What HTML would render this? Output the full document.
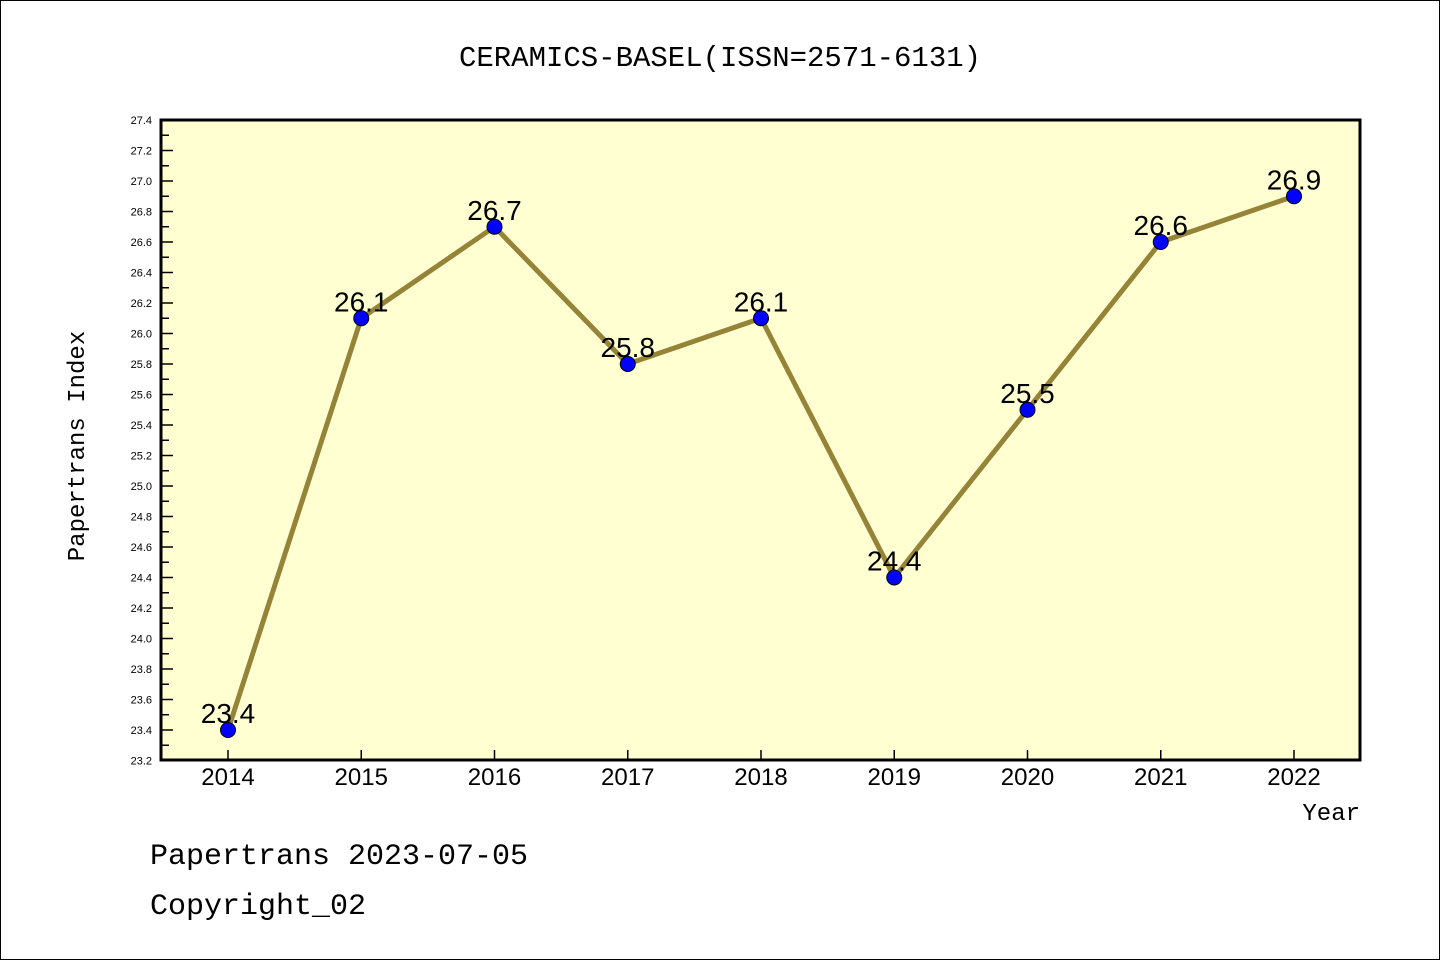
<!DOCTYPE html>
<html><head><meta charset="utf-8"><style>
body{margin:0;background:#fff}
svg{display:block}
text{font-family:"Liberation Mono","DejaVu Sans Mono",monospace}
</style></head><body>
<svg id="chart" width="1440" height="960" viewBox="0 0 1440 960" xmlns="http://www.w3.org/2000/svg">
<rect x="0.5" y="0.5" width="1439" height="959" fill="#fff" stroke="#000"/>
<text x="720" y="66" font-size="29" text-anchor="middle">CERAMICS-BASEL(ISSN=2571-6131)</text>
<rect x="161" y="120" width="1199" height="640" fill="#ffffd2"/>
<g id="yaxis"></g>
<g id="xaxis"></g>
<g id="series"></g>
<rect x="161" y="120" width="1199" height="640" fill="none" stroke="#000" stroke-width="3"/>
<text transform="translate(84,446) rotate(-90)" font-size="24" text-anchor="middle">Papertrans Index</text>
<text x="1360" y="820" font-size="24" text-anchor="end">Year</text>
<text x="150" y="864" font-size="30">Papertrans 2023-07-05</text>
<text x="150" y="914" font-size="30">Copyright_02</text>
</svg>
<script>
const years = [2014,2015,2016,2017,2018,2019,2020,2021,2022];
const values = [23.4,26.1,26.7,25.8,26.1,24.4,25.5,26.6,26.9];
const yTicks = [23.2,23.4,23.6,23.8,24.0,24.2,24.4,24.6,24.8,25.0,25.2,25.4,25.6,25.8,26.0,26.2,26.4,26.6,26.8,27.0,27.2,27.4];
const valueLabels = ["23.4","26.1","26.7","25.8","26.1","24.4","25.5","26.6","26.9"];
(function(){
const NS="http://www.w3.org/2000/svg";
const yMin=23.2,yMax=27.4,pTop=120,pBot=760.5;
const y=v=>pBot-(v-yMin)/(yMax-yMin)*(pBot-pTop);
const x=yr=>228+(yr-2014)*133.25;
function mk(tag,attrs,parent){const e=document.createElementNS(NS,tag);for(const k in attrs)e.setAttribute(k,attrs[k]);parent.appendChild(e);return e;}
const ya=document.getElementById('yaxis'),xa=document.getElementById('xaxis'),sg=document.getElementById('series');
yTicks.forEach(t=>{
  const yy=y(t);
  const l=mk('line',{x1:161,x2:173,y1:yy,y2:yy,stroke:'#000','stroke-width':1.5},ya);
  
  
  const tx=mk('text',{x:152,y:yy+4,'font-size':11,'text-anchor':'end',style:'font-family:"Liberation Sans",sans-serif'},ya);
  tx.textContent=t.toFixed(1);
  
  
  if(t<yMax-0.01){const m=y(t+0.1);
    const ml=mk('line',{x1:161,x2:169,y1:m,y2:m,stroke:'#000','stroke-width':1.5},ya);
    
    }
});
years.forEach(yr=>{
  const xx=x(yr);
  const l=mk('line',{x1:xx,x2:xx,y1:760,y2:750,stroke:'#000','stroke-width':1.5},xa);
  
  
  const tx=mk('text',{x:xx,y:785,'font-size':24,'text-anchor':'middle',style:'font-family:"Liberation Sans",sans-serif'},xa);
  tx.textContent=yr;
  
  
});
const pl=mk('polyline',{points:years.map((yr,i)=>x(yr)+','+y(values[i])).join(' '),fill:'none',stroke:'#958437','stroke-width':5,'stroke-linejoin':'round'},sg);


years.forEach((yr,i)=>{
  const c=mk('circle',{cx:x(yr),cy:y(values[i]),r:7.5,fill:'#0000ff',stroke:'#000','stroke-width':1},sg);
  
  
  const t=mk('text',{x:x(yr),y:y(values[i])-7,'font-size':28,'text-anchor':'middle',style:'font-family:"Liberation Sans",sans-serif'},sg);
  t.textContent=valueLabels[i];
  
  
});
})();
</script>
</body></html>
